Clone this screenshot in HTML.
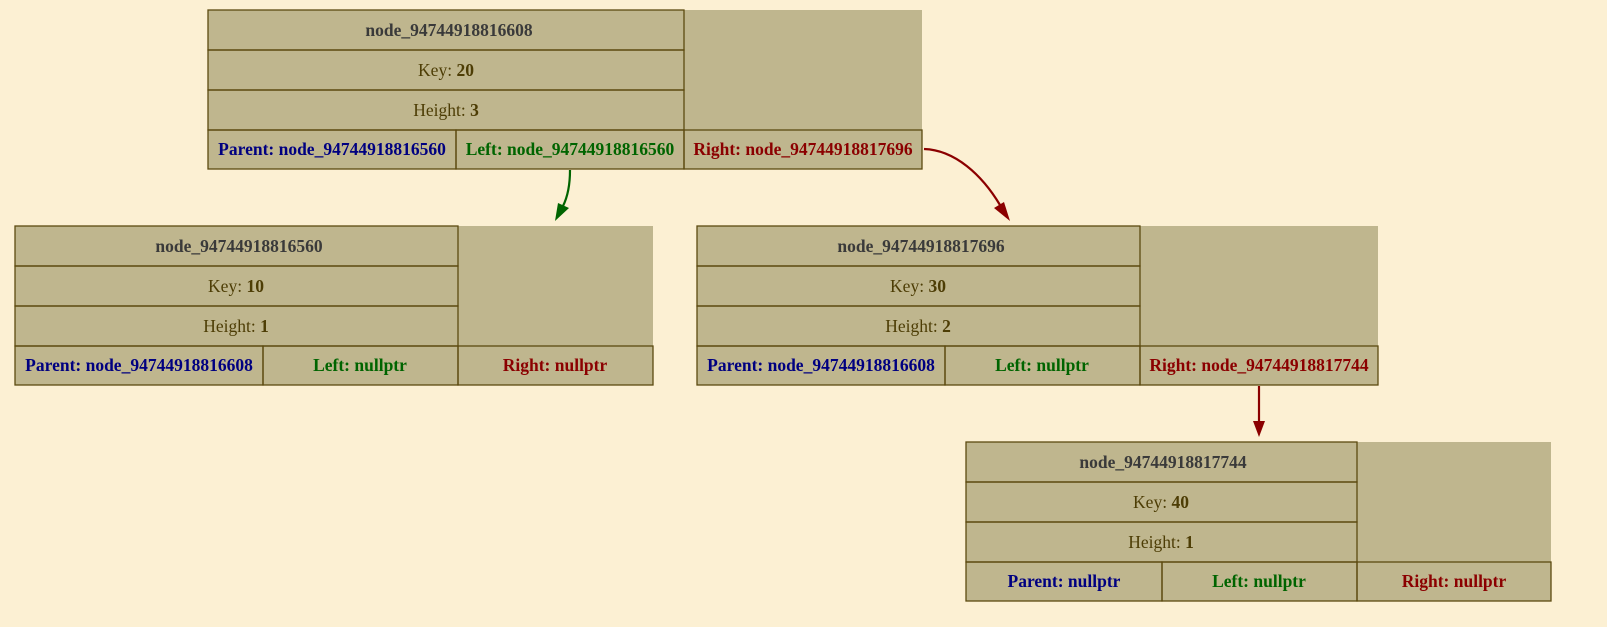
<!DOCTYPE html>
<html><head><meta charset="utf-8"><style>
html,body{margin:0;padding:0;background:#fcf0d3;}
svg{display:block;}
text{font-family:"Liberation Serif",serif;font-size:17.5px;text-anchor:middle;}
.t{fill:#3a3a3a;font-weight:bold;}
.k{fill:#4d3d05;}
.k tspan{font-weight:bold;}
.p{fill:#000080;font-weight:bold;}
.l{fill:#006400;font-weight:bold;}
.r{fill:#8b0000;font-weight:bold;}
rect.f{fill:#bfb68e;}
rect.c{fill:none;stroke:#5c4a10;stroke-width:1.3;}
</style></head><body>
<svg width="1607" height="627" viewBox="0 0 1607 627" xmlns="http://www.w3.org/2000/svg">
<rect x="0" y="0" width="1607" height="627" fill="#fcf0d3"/>

<!-- Node 1 -->
<rect class="f" x="208" y="10" width="714" height="159"/>
<rect class="c" x="208" y="10" width="476" height="40"/>
<rect class="c" x="208" y="50" width="476" height="40"/>
<rect class="c" x="208" y="90" width="476" height="40"/>
<rect class="c" x="208" y="130" width="248" height="39"/>
<rect class="c" x="456" y="130" width="228" height="39"/>
<rect class="c" x="684" y="130" width="238" height="39"/>
<text class="t" x="449" y="36">node_94744918816608</text>
<text class="k" x="446" y="76">Key: <tspan>20</tspan></text>
<text class="k" x="446" y="116">Height: <tspan>3</tspan></text>
<text class="p" x="332" y="155">Parent: node_94744918816560</text>
<text class="l" x="570" y="155">Left: node_94744918816560</text>
<text class="r" x="803" y="155">Right: node_94744918817696</text>

<!-- Node 2 -->
<rect class="f" x="15" y="226" width="638" height="159"/>
<rect class="c" x="15" y="226" width="443" height="40"/>
<rect class="c" x="15" y="266" width="443" height="40"/>
<rect class="c" x="15" y="306" width="443" height="40"/>
<rect class="c" x="15" y="346" width="248" height="39"/>
<rect class="c" x="263" y="346" width="195" height="39"/>
<rect class="c" x="458" y="346" width="195" height="39"/>
<text class="t" x="239" y="252">node_94744918816560</text>
<text class="k" x="236" y="292">Key: <tspan>10</tspan></text>
<text class="k" x="236" y="332">Height: <tspan>1</tspan></text>
<text class="p" x="139" y="371">Parent: node_94744918816608</text>
<text class="l" x="360" y="371">Left: nullptr</text>
<text class="r" x="555" y="371">Right: nullptr</text>

<!-- Node 3 -->
<rect class="f" x="697" y="226" width="681" height="159"/>
<rect class="c" x="697" y="226" width="443" height="40"/>
<rect class="c" x="697" y="266" width="443" height="40"/>
<rect class="c" x="697" y="306" width="443" height="40"/>
<rect class="c" x="697" y="346" width="248" height="39"/>
<rect class="c" x="945" y="346" width="195" height="39"/>
<rect class="c" x="1140" y="346" width="238" height="39"/>
<text class="t" x="921" y="252">node_94744918817696</text>
<text class="k" x="918" y="292">Key: <tspan>30</tspan></text>
<text class="k" x="918" y="332">Height: <tspan>2</tspan></text>
<text class="p" x="821" y="371">Parent: node_94744918816608</text>
<text class="l" x="1042" y="371">Left: nullptr</text>
<text class="r" x="1259" y="371">Right: node_94744918817744</text>

<!-- Node 4 -->
<rect class="f" x="966" y="442" width="585" height="159"/>
<rect class="c" x="966" y="442" width="391" height="40"/>
<rect class="c" x="966" y="482" width="391" height="40"/>
<rect class="c" x="966" y="522" width="391" height="40"/>
<rect class="c" x="966" y="562" width="196" height="39"/>
<rect class="c" x="1162" y="562" width="195" height="39"/>
<rect class="c" x="1357" y="562" width="194" height="39"/>
<text class="t" x="1163" y="468">node_94744918817744</text>
<text class="k" x="1161" y="508">Key: <tspan>40</tspan></text>
<text class="k" x="1161" y="548">Height: <tspan>1</tspan></text>
<text class="p" x="1064" y="587">Parent: nullptr</text>
<text class="l" x="1259" y="587">Left: nullptr</text>
<text class="r" x="1454" y="587">Right: nullptr</text>

<!-- Edges -->
<path d="M570,170 C570,185 568,196 563,206" fill="none" stroke="#006400" stroke-width="2.2"/>
<polygon points="555,221 558,203 569,208" fill="#006400"/>
<path d="M924,149 C955,150 982,175 1000,205" fill="none" stroke="#8b0000" stroke-width="2.2"/>
<polygon points="1010,221 994,208 1004,202" fill="#8b0000"/>
<path d="M1259,386 L1259,422" fill="none" stroke="#8b0000" stroke-width="2.2"/>
<polygon points="1259,437 1253,421 1265,421" fill="#8b0000"/>
</svg>
</body></html>
